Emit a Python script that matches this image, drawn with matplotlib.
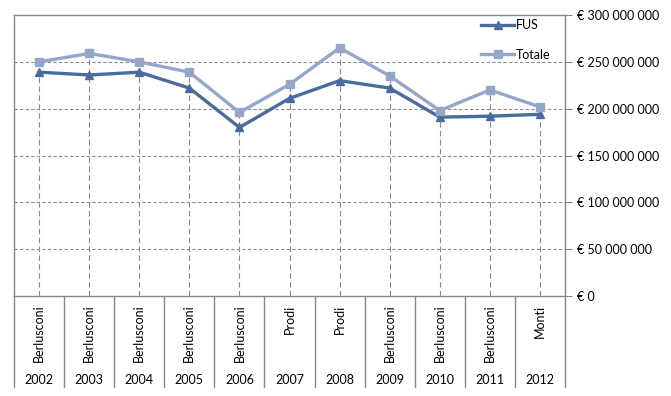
import matplotlib.pyplot as plt
from matplotlib.ticker import FuncFormatter

years = ["2002", "2003", "2004", "2005", "2006", "2007", "2008", "2009", "2010", "2011", "2012"]
premiers = ["Berlusconi", "Berlusconi", "Berlusconi", "Berlusconi", "Berlusconi", "Prodi",
            "Prodi", "Berlusconi", "Berlusconi", "Berlusconi", "Monti"]
fus = [239e6, 236e6, 239e6, 222e6, 180e6, 211e6, 230e6, 222e6, 191e6, 192e6, 194e6]
totale = [250e6, 259e6, 250e6, 239e6, 196e6, 226e6, 265e6, 235e6, 198e6, 220e6, 202e6]

plt.rcParams['font.family'] = ['Lato', 'DejaVu Sans']

fig = plt.figure(figsize=(6.71, 3.96), dpi=100)
ax = fig.add_axes([0.021, 0.2525, 0.821, 0.7095])

grey = "#868686"
x = list(range(len(years)))

ax.plot(x, fus, color="#4A6C9C", lw=2.4, marker="^", ms=5.5, label="FUS", zorder=3)
ax.plot(x, totale, color="#94A7CB", lw=2.4, marker="s", ms=5.5, label="Totale", zorder=3)

ax.set_xlim(-0.5, len(years) - 0.5)
ax.set_ylim(0, 300e6)
ax.set_yticks([i * 50e6 for i in range(7)])
ax.yaxis.tick_right()
ax.yaxis.set_major_formatter(FuncFormatter(
    lambda v, p: "€ 0" if v == 0 else "€ " + format(int(v), ",").replace(",", " ")))
ax.tick_params(axis="y", length=5, color=grey, labelsize=9, pad=4)
ax.set_xticks([])

# grid + drop lines
for v in ax.get_yticks()[1:-1]:
    ax.axhline(v, color="#8c8c8c", lw=0.8, ls=(0, (3, 2)), zorder=1)
ax.vlines(x, 0, [max(a, b) for a, b in zip(fus, totale)], color="#8c8c8c", lw=0.8,
          linestyles=(0, (5, 3)), zorder=1)

for s in ax.spines.values():
    s.set_color(grey)
    s.set_linewidth(1)

# multi-level category axis
tr = ax.get_xaxis_transform()
for i in range(len(years) + 1):
    ax.plot([i - 0.5, i - 0.5], [0, -0.325], transform=tr, color=grey, lw=1, clip_on=False)
for i, (name, yr) in enumerate(zip(premiers, years)):
    ax.text(i, -0.03, name, transform=tr, rotation=90, ha="center", va="top", fontsize=9)
    ax.text(i, -0.30, yr, transform=tr, ha="center", va="center", fontsize=9)

ax.legend(loc="upper right", bbox_to_anchor=(0.995, 1.025), frameon=False, fontsize=9,
          handlelength=2.6, labelspacing=1.4, handletextpad=0.2)

fig.savefig("out.png", dpi=100)
